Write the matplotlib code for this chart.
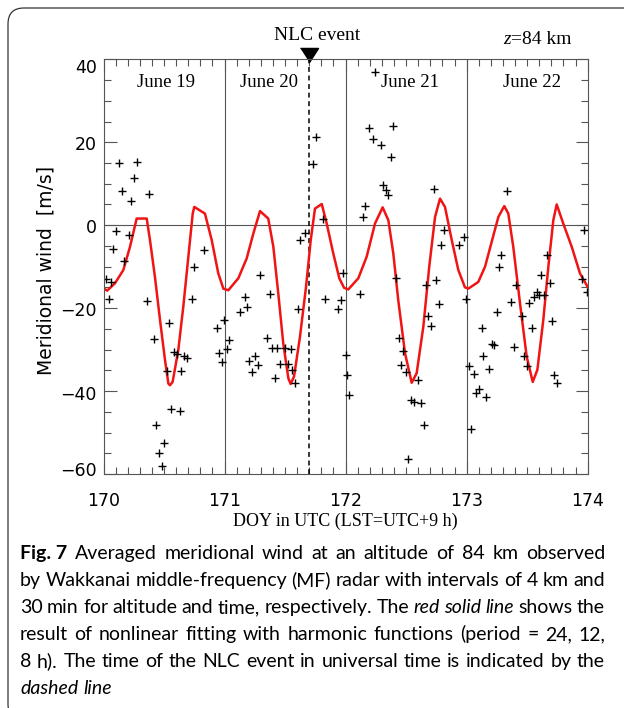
import matplotlib
matplotlib.use("Agg")
import matplotlib.pyplot as plt
from matplotlib.patches import FancyBboxPatch
from matplotlib.ticker import MultipleLocator
from matplotlib.transforms import blended_transform_factory, offset_copy

# red fitted curve
fit_doy = [170.00, 170.03, 170.095, 170.164, 170.219, 170.274, 170.357, 170.384, 170.425, 170.467,
           170.508, 170.536, 170.549, 170.571, 170.618, 170.659, 170.701, 170.737, 170.75, 170.838,
           170.894, 170.948, 170.99,
           171.031, 171.114, 171.183, 171.238, 171.293, 171.361, 171.403, 171.444, 171.485, 171.527,
           171.546, 171.574, 171.623, 171.673, 171.712, 171.747, 171.803, 171.844, 171.898, 171.948,
           171.987,
           172.022, 172.105, 172.174, 172.243, 172.306, 172.353, 172.394, 172.435, 172.491, 172.546,
           172.587, 172.642, 172.691, 172.739, 172.78, 172.821, 172.877, 172.931, 172.986,
           173.014, 173.096, 173.152, 173.207, 173.262, 173.311, 173.344, 173.385, 173.441, 173.496,
           173.546, 173.584, 173.633, 173.675, 173.716, 173.744, 173.798, 173.868, 173.936, 174.0]
fit_wind = [-15.2, -15.8, -14.0, -10.8, -5.2, 1.6, 1.6, -3.6, -12.5, -22.9,
            -32.5, -38.2, -38.6, -37.8, -30.1, -19.7, -7.6, 2.8, 4.4, 2.8,
            -3.6, -11.6, -15.3,
            -15.7, -12.8, -8.0, -2.0, 3.4, 1.6, -5.2, -16.5, -28.5, -36.9,
            -38.3, -36.5, -26.9, -14.9, -3.6, 4.0, 5.1, 0.4, -6.8, -12.8,
            -15.1,
            -15.5, -12.8, -7.6, 0.4, 4.3, 1.2, -6.8, -18.1, -30.9, -38.0,
            -35.7, -24.5, -10.0, 2.0, 6.4, 4.4, -3.6, -10.8, -15.0,
            -15.3, -13.7, -10.0, -4.0, 2.0, 4.6, 2.8, -5.2, -18.9, -31.7,
            -37.8, -34.9, -22.9, -10.0, 1.2, 5.0, 0.4, -5.2, -11.6, -14.9]

# MF radar 30-min means
obs_doy = [170.128, 170.274, 170.252, 170.150, 170.230, 170.378, 170.100, 170.211, 170.081, 170.172,
           170.021, 170.062, 170.045, 170.357, 170.833, 170.750, 170.734, 170.544, 170.415, 170.585,
           170.604, 170.668, 170.690, 170.522, 170.643, 170.560, 170.629, 170.436, 170.502, 170.461,
           170.481, 170.938, 170.998, 171.040, 170.957, 171.018, 170.976,
           171.753, 171.731, 171.813, 171.665, 171.626, 171.293, 171.375, 171.166, 171.188, 171.125,
           171.604, 171.832, 171.979, 171.959, 171.935, 171.353, 171.394, 171.436, 171.499, 171.546,
           171.249, 171.205, 171.274, 171.227, 171.456, 171.522, 171.560, 171.419, 171.584, 172.000,
           172.014, 172.030,
           172.245, 172.190, 172.394, 172.226, 172.290, 172.373, 172.312, 172.331, 172.350, 172.163,
           172.144, 172.728, 172.810, 172.791, 172.934, 172.978, 172.122, 172.419, 172.667, 172.749,
           172.769, 172.997, 172.683, 172.703, 172.439, 172.477, 172.455, 172.497, 172.598, 172.538,
           172.563, 172.620, 172.645, 172.518,
           173.331, 173.972, 173.286, 173.265, 173.664, 173.617, 173.686, 173.410, 173.953, 173.992,
           173.581, 173.594, 173.637, 173.559, 173.515, 173.369, 173.248, 173.455, 173.708, 173.127,
           173.537, 173.207, 173.228, 173.391, 173.138, 173.476, 173.022, 173.496, 173.058, 173.185,
           173.724, 173.744, 173.102, 173.077, 173.160, 173.033]
obs_wind = [15.0, 15.2, 11.4, 8.3, 5.9, 7.4, -1.5, -2.4, -5.8, -8.7,
            -12.9, -13.8, -17.9, -18.2, -6.1, -10.2, -17.7, -23.7, -27.5, -30.6,
            -31.1, -31.6, -32.0, -35.1, -35.1, -44.3, -44.8, -48.2, -52.5, -55.0,
            -58.0, -24.7, -22.9, -27.7, -30.9, -29.8, -33.1,
            21.2, 14.7, 1.4, -1.9, -3.5, -11.9, -16.6, -17.2, -19.8, -21.0,
            -20.3, -17.8, -11.5, -18.1, -20.1, -27.1, -29.6, -29.6, -29.6, -29.8,
            -31.6, -32.8, -33.8, -35.5, -33.4, -33.4, -34.9, -36.9, -38.1, -31.2,
            -36.1, -41.0,
            36.9, 23.4, 23.9, 20.8, 19.4, 16.5, 9.8, 8.4, 7.2, 4.7,
            1.9, 8.8, -1.1, -4.8, -4.8, -2.8, -16.6, -12.8, -14.5, -13.2,
            -19.0, -17.7, -21.9, -24.3, -27.1, -30.4, -33.6, -35.5, -37.4, -42.2,
            -42.7, -42.8, -48.3, -56.5,
            8.2, -1.2, -7.2, -10.2, -7.2, -12.0, -13.9, -14.5, -12.9, -16.2,
            -16.0, -16.9, -16.9, -17.4, -18.7, -18.6, -21.0, -21.9, -23.2, -24.7,
            -24.7, -28.7, -28.8, -29.3, -31.6, -31.6, -34.0, -34.0, -35.9, -34.8,
            -36.2, -38.1, -39.4, -40.5, -41.5, -49.2]

nlc_doy = 171.70
day_edges = [171, 172, 173]
day_names = ["June 19", "June 20", "June 21", "June 22"]
day_name_doy = [170.52, 171.37, 172.53, 173.54]
y_ticks = [40, 20, 0, -20, -40, -60]

caption = [
    [("Fig. 7", "bold", "normal"), ("Averaged meridional wind at an altitude of 84 km observed", "normal", "normal")],
    [("by Wakkanai middle-frequency (MF) radar with intervals of 4 km and", "normal", "normal")],
    [("30 min for altitude and time, respectively. The", "normal", "normal"), ("red solid line", "normal", "italic"),
     ("shows the", "normal", "normal")],
    [("result of nonlinear fitting with harmonic functions (period = 24, 12,", "normal", "normal")],
    [("8 h). The time of the NLC event in universal time is indicated by the", "normal", "normal")],
    [("dashed line", "normal", "italic")],
]

W, H = 624, 708
fig = plt.figure(figsize=(W / 100, H / 100), dpi=100)
renderer = fig.canvas.get_renderer()
gray = "#555555"
serif = "Liberation Serif"

# rounded frame round figure + caption
fig.add_artist(FancyBboxPatch((0.08, -0.12), 6.6, 7.12, boxstyle="round,pad=0,rounding_size=0.16",
                              transform=fig.dpi_scale_trans, fill=False, ec="#333333", lw=0.9))

ax = fig.add_axes([103.5 / W, 1 - 474 / H, 484.2 / W, (474 - 59.3) / H])
ax.axhline(0, color=gray, lw=0.8)
for d in day_edges:
    ax.axvline(d, color=gray, lw=0.8)
ax.axvline(nlc_doy, color="black", lw=1.1, ls=(0, (3.2, 2.4)))
ax.plot(fit_doy, fit_wind, color="#f01414", lw=1.8)
ax.plot(obs_doy, obs_wind, ls="none", marker="+", ms=5.5, mew=1.0, color="black")

# NLC marker
ax.plot([nlc_doy], [41.0], ls="none", marker=[(-1, 0.78), (1, 0.78), (0, -0.78)], ms=13,
        color="black", clip_on=False)

ax.set_xlim(170, 174)
ax.set_ylim(-60, 40)
ax.xaxis.set_major_locator(MultipleLocator(1))
ax.xaxis.set_minor_locator(MultipleLocator(0.1))
ax.yaxis.set_major_locator(MultipleLocator(20))
ax.yaxis.set_minor_locator(MultipleLocator(5))
ax.tick_params(which="both", direction="in", top=True, right=True, color=gray, width=0.8)
ax.tick_params(which="major", length=9)
ax.tick_params(which="minor", length=5)
ax.tick_params(axis="x", labelsize=12.5, pad=13)
for lab in ax.get_xticklabels():
    lab.set_family("DejaVu Sans")
ax.set_yticklabels([])
for s in ax.spines.values():
    s.set_color(gray)
    s.set_linewidth(0.8)

# y tick labels, nudged like the original
ylab_trans = blended_transform_factory(ax.transAxes, ax.transData)
for v, dy in zip(y_ticks, [-9, -3, -3, -3, -4, 3]):
    txt = str(v).replace("-", "\u2212")
    ax.text(-0.014, v, txt, transform=offset_copy(ylab_trans, fig=fig, x=0, y=dy, units="dots"),
            ha="right", va="center", size=12.5, family="DejaVu Sans")

for name, d in zip(day_names, day_name_doy):
    ax.text(d, 34.3, name, ha="center", va="center", size=13.5, family=serif)

fig.text(46 / W, 1 - 270 / H, "Meridional wind  [m/s]", rotation=90, ha="center", va="center",
         size=13.5, family="DejaVu Sans")
fig.text(345.6 / W, 1 - 521 / H, "DOY in UTC (LST=UTC+9 h)", ha="center", va="center",
         size=13, family=serif)
fig.text(317 / W, 1 - 40 / H, "NLC event", ha="center", va="baseline", size=14, family=serif)


def put_words(words, x0, y0, size, family, width=None, gap=0.0):
    # words: (text, weight, style); x0, y0 in pixels from top-left, y0 = baseline
    items = []
    for text, weight, style in words:
        t = fig.text(0, 0, text, size=size, family=family, weight=weight, style=style, va="baseline")
        items.append((t, t.get_window_extent(renderer).width))
    if width is not None and len(items) > 1:
        gap = (width - sum(w for _, w in items)) / (len(items) - 1)
    x = x0
    for t, w in items:
        t.set_position((x / W, 1 - y0 / H))
        x += w + gap


put_words([("z", "normal", "italic"), ("=84 km", "normal", "normal")], 503, 44, 14, serif)

cap_size = 14
for i, line in enumerate(caption):
    words = []
    for seg, weight, style in line:
        if weight == "bold":
            words.append((seg, weight, style))
        else:
            words += [(w, weight, style) for w in seg.split(" ")]
    last = i == len(caption) - 1
    put_words(words, 20, 559 + 27 * i, cap_size, "Lato", width=None if last else 585,
              gap=cap_size * 0.25 * 100 / 72)

fig.savefig("out.png", dpi=100)
